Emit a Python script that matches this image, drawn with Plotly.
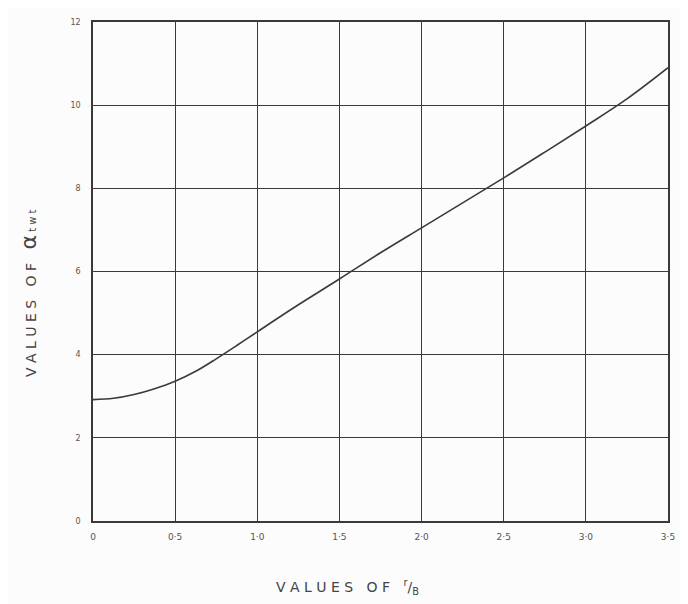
import plotly.graph_objects as go

# Data
r_over_b = [0, 0.125, 0.25, 0.375, 0.5, 0.625, 0.75, 0.875, 1.0, 1.25, 1.5, 1.75, 2.0, 2.25, 2.5, 2.75, 3.0, 3.25, 3.5]
alpha_twt = [2.92, 2.95, 3.04, 3.18, 3.36, 3.6, 3.9, 4.22, 4.55, 5.2, 5.82, 6.45, 7.05, 7.65, 8.25, 8.87, 9.5, 10.15, 10.9]

x_tickvals = [0, 0.5, 1.0, 1.5, 2.0, 2.5, 3.0, 3.5]
x_ticktext = ["0", "0·5", "1·0", "1·5", "2·0", "2·5", "3·0", "3·5"]
y_tickvals = [0, 2, 4, 6, 8, 10, 12]
y_ticktext = ["0", "2", "4", "6", "8", "10", "12"]

x_title = "V A L U E S   O F   <sup>r</sup>/<sub>B</sub>"
y_title = ("V A L U E S   O F   <span style='font-size:22px'>α</span>"
           "<span style='font-size:10px'> t w t</span>")

line_col = "#3a3a3a"
text_col = "#555555"

fig = go.Figure()
fig.add_trace(go.Scatter(
    x=r_over_b, y=alpha_twt, mode="lines",
    line=dict(color=line_col, width=1.6, shape="spline", smoothing=1.0),
    hoverinfo="skip", showlegend=False,
))

fig.update_layout(
    width=688, height=604,
    margin=dict(l=85, r=28, t=10, b=91),
    paper_bgcolor="#fcfcfc",
    plot_bgcolor="#fcfcfc",
    font=dict(family="DejaVu Sans", color=text_col, size=9),
    xaxis=dict(
        range=[0, 3.5], tickvals=x_tickvals, ticktext=x_ticktext,
        showgrid=True, gridcolor=line_col, gridwidth=1.3,
        showline=True, linecolor=line_col, linewidth=1.6, mirror=True,
        zeroline=False, ticks="", ticklabelstandoff=6,
        tickfont=dict(size=9, color=text_col),
    ),
    yaxis=dict(
        range=[0, 12], tickvals=y_tickvals, ticktext=y_ticktext,
        showgrid=True, gridcolor=line_col, gridwidth=1.3,
        showline=True, linecolor=line_col, linewidth=1.6, mirror=True,
        zeroline=False, ticks="", ticklabelstandoff=9,
        tickfont=dict(size=8, color=text_col),
    ),
    annotations=[
        dict(text=x_title, xref="paper", yref="paper", x=0.443, y=0,
             xanchor="center", yanchor="middle", yshift=-66, showarrow=False,
             font=dict(size=14, color="#444444")),
        dict(text=y_title, xref="paper", yref="paper", x=0, y=0.457,
             xanchor="center", yanchor="middle", xshift=-64, textangle=-90,
             showarrow=False, font=dict(size=14, color="#444444")),
    ],
)

fig.write_html("out.html")
